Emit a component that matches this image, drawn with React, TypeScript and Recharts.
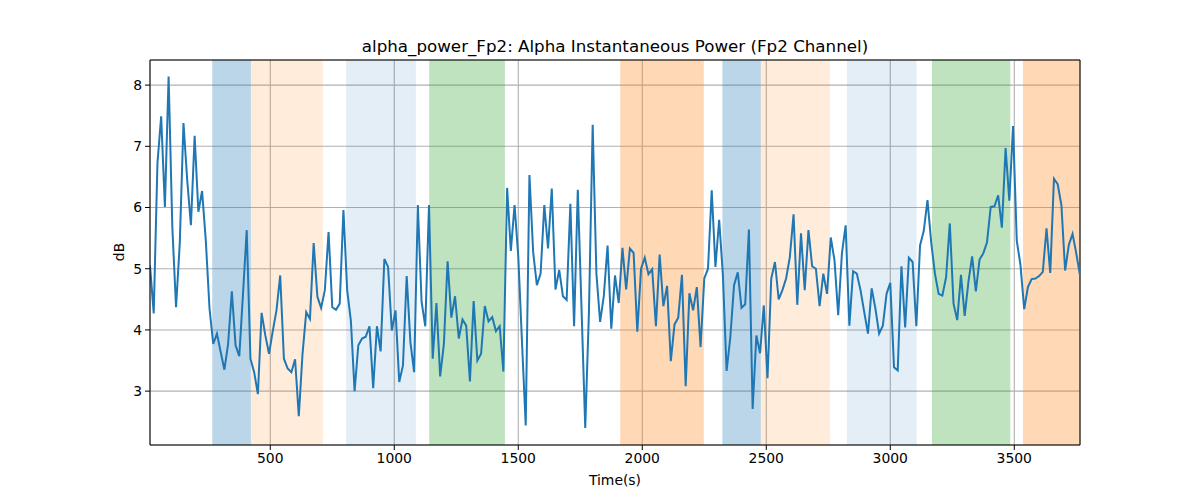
import React from "react";
import {
  LineChart,
  Line,
  XAxis,
  YAxis,
  CartesianGrid,
  ReferenceArea,
  ReferenceLine,
} from "recharts";

// sampling of the power estimate (seconds)
const START_TIME = 15;
const STEP = 15;

// alpha power in dB, one value per window
const POWER_DB = [
  5.05, 4.27, 6.72, 7.49, 6.01, 8.14, 5.68, 4.37, 5.41, 7.38,
  6.45, 5.71, 7.17, 5.93, 6.27, 5.46, 4.35, 3.77, 3.94, 3.64,
  3.35, 3.77, 4.63, 3.75, 3.57, 4.59, 5.63, 3.53, 3.31, 2.95,
  4.28, 3.91, 3.61, 3.98, 4.32, 4.89, 3.53, 3.37, 3.31, 3.52,
  2.59, 3.61, 4.29, 4.18, 5.42, 4.54, 4.36, 4.65, 5.6, 4.37,
  4.33, 4.43, 5.96, 4.65, 4.15, 3.0, 3.75, 3.86, 3.89, 4.06,
  3.05, 4.06, 3.65, 5.16, 5.03, 3.99, 4.32, 3.15, 3.42, 4.88,
  3.8, 3.31, 6.04, 4.46, 4.06, 6.04, 3.53, 4.44, 3.24, 3.77,
  5.12, 4.2, 4.55, 3.86, 4.17, 4.07, 3.16, 4.47, 3.5, 3.61,
  4.39, 4.14, 4.21, 3.98, 4.06, 3.32, 6.32, 5.29, 6.04, 5.2,
  3.8, 2.44, 6.53, 5.27, 4.73, 4.92, 6.04, 5.33, 6.31, 4.66,
  4.98, 4.55, 4.49, 6.06, 4.06, 6.29, 4.35, 2.4, 4.3, 7.35,
  4.92, 4.13, 4.56, 5.38, 4.02, 4.89, 4.44, 5.34, 4.66, 5.33,
  5.26, 3.97, 5.0, 5.18, 4.91, 4.99, 4.06, 5.23, 4.39, 4.72,
  3.49, 4.09, 4.2, 4.9, 3.08, 4.6, 4.32, 4.7, 3.72, 4.84,
  5.0, 6.28, 5.03, 5.8, 4.9, 3.33, 3.88, 4.73, 4.94, 4.36,
  4.42, 5.64, 2.71, 3.91, 3.62, 4.4, 3.21, 4.84, 5.11, 4.5,
  4.65, 4.84, 5.19, 5.89, 4.41, 5.58, 4.65, 5.63, 5.04, 5.0,
  4.39, 4.92, 4.59, 5.51, 5.14, 4.24, 5.25, 5.71, 4.07, 4.96,
  4.92, 4.65, 4.29, 3.94, 4.68, 4.35, 3.94, 4.07, 4.59, 4.77,
  3.39, 3.34, 5.04, 4.04, 5.18, 5.11, 4.06, 5.38, 5.62, 6.12,
  5.43, 4.92, 4.59, 4.56, 4.86, 5.74, 4.43, 4.16, 4.9, 4.23,
  4.78, 5.2, 4.63, 5.15, 5.25, 5.43, 6.01, 6.02, 6.2, 5.67,
  6.97, 6.11, 7.33, 5.46, 5.06, 4.34, 4.7, 4.83, 4.84, 4.88,
  4.95, 5.66, 4.93, 6.47, 6.38, 6.04, 4.97, 5.39, 5.57, 5.25,
  4.89,
];

// shaded task segments (seconds)
const SEGMENT_START = [266, 422, 806, 1141, 1911, 2323, 2478, 2825, 3168, 3535];
const SEGMENT_END = [422, 712, 1087, 1446, 2248, 2478, 2757, 3106, 3484, 3765];
const SEGMENT_KIND = ["blue", "peach", "sky", "green", "orange", "blue", "peach", "sky", "green", "orange"];

const X_TICKS = [500, 1000, 1500, 2000, 2500, 3000, 3500];
const Y_TICKS = [3, 4, 5, 6, 7, 8];
const Y_MIN = 2.12;
const Y_MAX = 8.41;

const SEGMENT_FILL: Record<string, { color: string; opacity: number }> = {
  blue: { color: "#1f77b4", opacity: 0.3 },
  peach: { color: "#ff7f0e", opacity: 0.15 },
  sky: { color: "#1f77b4", opacity: 0.12 },
  green: { color: "#2ca02c", opacity: 0.3 },
  orange: { color: "#ff7f0e", opacity: 0.3 },
};

const FONT = "'DejaVu Sans', sans-serif";

const data = POWER_DB.map((v, i) => ({ t: START_TIME + STEP * i, v }));
const T_END = START_TIME + STEP * (POWER_DB.length - 1);

export default function App() {
  const tick = { fontSize: 13.9, fill: "#000", fontFamily: FONT };
  return (
    <div style={{ position: "absolute", left: 0, top: 0, width: 1200, height: 500, background: "#fff" }}>
      <LineChart
        width={1200}
        height={500}
        data={data}
        margin={{ top: 60, right: 120, bottom: 25, left: 100 }}
      >
        <CartesianGrid stroke="#b0b0b0" strokeWidth={1.1} />
        {SEGMENT_START.map((x1, i) => (
          <ReferenceArea
            key={`seg-${i}`}
            x1={x1}
            x2={SEGMENT_END[i]}
            y1={Y_MIN}
            y2={Y_MAX}
            fill={SEGMENT_FILL[SEGMENT_KIND[i]].color}
            fillOpacity={SEGMENT_FILL[SEGMENT_KIND[i]].opacity}
            stroke="none"
            ifOverflow="hidden"
          />
        ))}
        <XAxis
          dataKey="t"
          type="number"
          domain={[START_TIME, T_END]}
          ticks={X_TICKS}
          height={30}
          tickSize={5}
          tickMargin={3}
          tick={tick}
          stroke="#000"
          allowDataOverflow
        />
        <YAxis
          type="number"
          domain={[Y_MIN, Y_MAX]}
          ticks={Y_TICKS}
          width={50}
          tickSize={5}
          tickMargin={3}
          tick={tick}
          stroke="#000"
          allowDataOverflow
        />
        <ReferenceLine y={Y_MAX} stroke="#000" strokeWidth={1} />
        <ReferenceLine x={T_END} stroke="#000" strokeWidth={1} />
        <Line
          type="linear"
          dataKey="v"
          stroke="#1f77b4"
          strokeWidth={2}
          dot={false}
          isAnimationActive={false}
        />
      </LineChart>
      <div
        style={{
          position: "absolute",
          left: 150,
          width: 930,
          top: 37,
          textAlign: "center",
          fontFamily: FONT,
          fontSize: 16.7,
          lineHeight: "18px",
        }}
      >
        alpha_power_Fp2: Alpha Instantaneous Power (Fp2 Channel)
      </div>
      <div
        style={{
          position: "absolute",
          left: 150,
          width: 930,
          top: 472,
          textAlign: "center",
          fontFamily: FONT,
          fontSize: 13.9,
          lineHeight: "16px",
        }}
      >
        Time(s)
      </div>
      <div
        style={{
          position: "absolute",
          left: 99,
          top: 244,
          width: 40,
          textAlign: "center",
          fontFamily: FONT,
          fontSize: 13.9,
          lineHeight: "16px",
          transform: "rotate(-90deg)",
        }}
      >
        dB
      </div>
    </div>
  );
}
